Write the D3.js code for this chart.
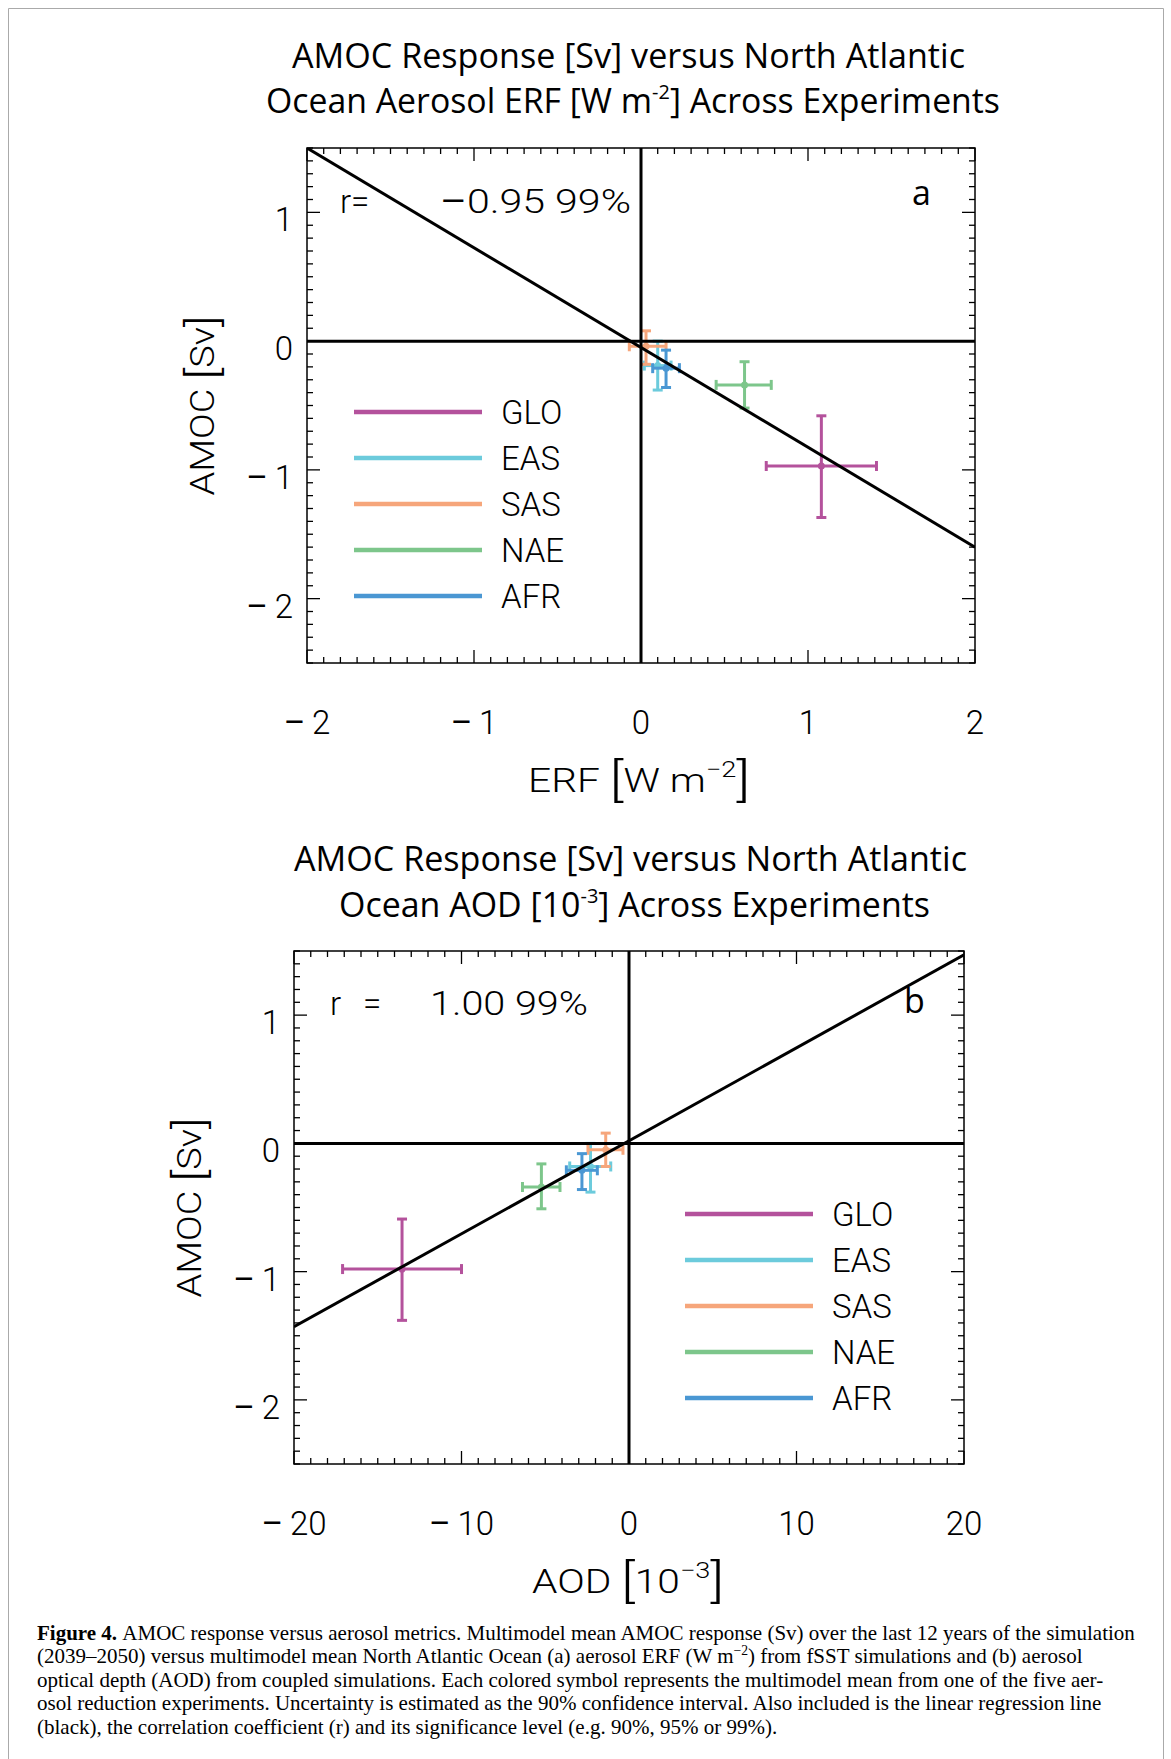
<!DOCTYPE html>
<meta charset="utf-8">
<style>
body { margin: 0; background: #fff; }
svg { display: block; }
.lbl { font-family: Roboto, "Liberation Sans", sans-serif; font-size: 33px; font-weight: 300; fill: #000; }
.ttl { font-family: "Open Sans", "Noto Sans", sans-serif; font-size: 34px; fill: #000; }
.cap { font-family: "Liberation Serif", serif; fill: #000; }
.minus { font-weight: 400; }
</style>
<body>
<script src="https://d3js.org/d3.v7.min.js"></script>
<script>

// experiments and colours
var experiments = ["GLO", "EAS", "SAS", "NAE", "AFR"];
var colors = ["#b4529c", "#6ccbdc", "#f6a67b", "#7dc68b", "#4a97d3"];

// panel a: ERF [W m-2] vs AMOC [Sv]
var erfMean = [1.08, 0.10, 0.03, 0.62, 0.15];
var erfLow  = [0.75, 0.02, -0.07, 0.45, 0.07];
var erfHigh = [1.41, 0.18, 0.15, 0.78, 0.23];
var amocMeanA = [-0.97, -0.19, -0.04, -0.34, -0.21];
var amocLowA  = [-1.37, -0.38, -0.18, -0.52, -0.36];
var amocHighA = [-0.58, 0.00, 0.08, -0.16, -0.07];
var regLineA = [[-2, 1.5], [2, -1.6]];

// panel b: AOD [10-3] vs AMOC [Sv]
var aodMean = [-13.55, -2.30, -1.39, -5.23, -2.81];
var aodLow  = [-17.1, -3.54, -2.45, -6.36, -3.74];
var aodHigh = [-10.0, -1.09, -0.36, -4.12, -1.89];
var amocMeanB = [-0.98, -0.18, -0.05, -0.34, -0.21];
var amocLowB  = [-1.38, -0.38, -0.18, -0.51, -0.36];
var amocHighB = [-0.59, 0.00, 0.08, -0.16, -0.08];
var regLineB = [[-20, -1.43], [20, 1.47]];

var xTicksA = [-2, -1, 0, 1, 2];
var xTicksB = [-20, -10, 0, 10, 20];
var yTicks = [-2, -1, 0, 1];
var yDomain = [-2.5, 1.5];

var captionLines = [
  "AMOC response versus aerosol metrics. Multimodel mean AMOC response (Sv) over the last 12 years of the simulation",
  "(2039\u20132050) versus multimodel mean North Atlantic Ocean (a) aerosol ERF (W m",
  "optical depth (AOD) from coupled simulations. Each colored symbol represents the multimodel mean from one of the five aer-",
  "osol reduction experiments. Uncertainty is estimated as the 90% confidence interval. Also included is the linear regression line",
  "(black), the correlation coefficient (r) and its significance level (e.g. 90%, 95% or 99%)."
];

var width = 1171,
    height = 1759;

var svg = d3.select("body").append("svg")
    .attr("width", width)
    .attr("height", height);

// page border (open at the bottom)
svg.append("path")
    .attr("d", "M8.5," + height + "V8.5H1163.5V" + height)
    .attr("fill", "none")
    .attr("stroke", "#aaa")
    .attr("stroke-width", 1);

// stretch or squeeze a text to a target width
function fitWidth(t, target) {
  t.attr("textLength", target).attr("lengthAdjust", "spacingAndGlyphs");
}

// number with a long, slightly heavier minus sign
function numText(t, v) {
  var s = String(v);
  if (s.charAt(0) === "-") {
    t.append("tspan").attr("class", "minus").text("\u2013\u2009");
    s = s.slice(1);
  }
  t.append("tspan").text(s);
}

function drawPanel(p) {
  var x = d3.scaleLinear().domain(p.xDomain).range([p.left, p.right]);
  var y = d3.scaleLinear().domain(yDomain).range([p.bottom, p.top]);
  var g = svg.append("g");

  var clipId = "clip" + p.name;
  g.append("clipPath").attr("id", clipId)
    .append("rect")
      .attr("x", p.left).attr("y", p.top)
      .attr("width", p.right - p.left).attr("height", p.bottom - p.top);

  // titles
  p.titles.forEach(function(tl) {
    var t = g.append("text").attr("class", "ttl").attr("x", tl.x0).attr("y", tl.y);
    t.append("tspan").text(tl.pre);
    if (tl.sup) {
      t.append("tspan").attr("font-size", 20).attr("dy", -14).text(tl.sup);
      t.append("tspan").attr("dy", 14).text(tl.post);
    }
    fitWidth(t, tl.w);
  });

  // ticks on all four sides
  var xStep = (p.xDomain[1] - p.xDomain[0]) / 40;
  var xMinor = d3.range(0, 41).map(function(i) { return p.xDomain[0] + i * xStep; });
  var yMinor = d3.range(0, 41).map(function(i) { return yDomain[0] + i * 0.1; });
  var tk = g.append("g").attr("stroke", "#000").attr("stroke-width", 1.3);
  xMinor.forEach(function(v, i) {
    var len = (i % 10 === 0) ? 13 : 6;
    tk.append("line").attr("x1", x(v)).attr("x2", x(v)).attr("y1", p.bottom).attr("y2", p.bottom - len);
    tk.append("line").attr("x1", x(v)).attr("x2", x(v)).attr("y1", p.top).attr("y2", p.top + len);
  });
  yMinor.forEach(function(v, i) {
    var len = ((i + 5) % 10 === 0) ? 13 : 6;
    tk.append("line").attr("y1", y(v)).attr("y2", y(v)).attr("x1", p.left).attr("x2", p.left + len);
    tk.append("line").attr("y1", y(v)).attr("y2", y(v)).attr("x1", p.right).attr("x2", p.right - len);
  });

  // error bars
  var cap = 5;
  experiments.forEach(function(e, i) {
    var c = colors[i];
    var eg = g.append("g").attr("stroke", c).attr("stroke-width", 3).attr("clip-path", "url(#" + clipId + ")");
    var cx = x(p.xm[i]), cy = y(p.ym[i]);
    eg.append("line").attr("x1", x(p.xl[i])).attr("x2", x(p.xh[i])).attr("y1", cy).attr("y2", cy);
    eg.append("line").attr("x1", x(p.xl[i])).attr("x2", x(p.xl[i])).attr("y1", cy - cap).attr("y2", cy + cap);
    eg.append("line").attr("x1", x(p.xh[i])).attr("x2", x(p.xh[i])).attr("y1", cy - cap).attr("y2", cy + cap);
    eg.append("line").attr("x1", cx).attr("x2", cx).attr("y1", y(p.yl[i])).attr("y2", y(p.yh[i]));
    eg.append("line").attr("x1", cx - cap).attr("x2", cx + cap).attr("y1", y(p.yl[i])).attr("y2", y(p.yl[i]));
    eg.append("line").attr("x1", cx - cap).attr("x2", cx + cap).attr("y1", y(p.yh[i])).attr("y2", y(p.yh[i]));
    g.append("circle").attr("cx", cx).attr("cy", cy).attr("r", 3.5).attr("fill", c);
  });

  // zero lines
  g.append("line").attr("x1", x(0)).attr("x2", x(0)).attr("y1", p.top).attr("y2", p.bottom)
      .attr("stroke", "#000").attr("stroke-width", 3);
  g.append("line").attr("x1", p.left).attr("x2", p.right).attr("y1", y(0)).attr("y2", y(0))
      .attr("stroke", "#000").attr("stroke-width", 3);

  // regression line
  g.append("path")
      .datum(p.reg)
      .attr("clip-path", "url(#" + clipId + ")")
      .attr("d", d3.line().x(function(d) { return x(d[0]); }).y(function(d) { return y(d[1]); }))
      .attr("fill", "none")
      .attr("stroke", "#000")
      .attr("stroke-width", 3);

  // frame
  g.append("rect")
      .attr("x", p.left).attr("y", p.top)
      .attr("width", p.right - p.left).attr("height", p.bottom - p.top)
      .attr("fill", "none").attr("stroke", "#000").attr("stroke-width", 1.5);

  // tick labels
  p.xTicks.forEach(function(v) {
    var t = g.append("text").attr("class", "lbl")
        .attr("x", x(v)).attr("y", p.bottom + 71)
        .attr("text-anchor", "middle");
    numText(t, v);
  });
  yTicks.forEach(function(v) {
    var t = g.append("text").attr("class", "lbl")
        .attr("x", p.left - 14).attr("y", y(v) + 19)
        .attr("text-anchor", "end");
    numText(t, v);
  });

  // axis titles
  var xt = g.append("text").attr("class", "lbl").attr("font-size", 34)
      .attr("x", p.xLabelX).attr("y", p.bottom + 129);
  xt.append("tspan").text(p.xLabel[0] + "  ");
  xt.append("tspan").attr("font-size", 46).attr("dy", 4).text("[");
  xt.append("tspan").attr("dy", -4).text(p.xLabel[1]);
  xt.append("tspan").attr("font-size", 22).attr("dy", -15).text(p.xLabel[2]);
  xt.append("tspan").attr("font-size", 46).attr("dy", 19).text("]");
  fitWidth(xt, p.xLabelW);

  var yc = (p.top + p.bottom) / 2;
  var ytg = g.append("g").attr("transform", "translate(" + (p.left - 93) + "," + (yc + 90) + ") rotate(-90)");
  var yt = ytg.append("text").attr("class", "lbl").attr("font-size", 34).attr("y", 0);
  yt.append("tspan").text("AMOC  ");
  yt.append("tspan").attr("font-size", 42).attr("dy", 3).text("[");
  yt.append("tspan").attr("dy", -3).text("Sv");
  yt.append("tspan").attr("font-size", 42).attr("dy", 3).text("]");
  fitWidth(yt, 180);

  // r annotation
  p.rText.forEach(function(r) {
    var t = g.append("text").attr("class", "lbl").attr("x", r.x).attr("y", p.rY);
    if (r.minus) t.append("tspan").attr("class", "minus").text("\u2013");
    t.append("tspan").text(r.s);
    if (r.w) fitWidth(t, r.w);
  });

  // panel letter
  g.append("text").attr("class", "ttl").attr("font-size", p.letterSize)
      .attr("x", p.letterX).attr("y", p.letterY).text(p.name);

  // legend
  experiments.forEach(function(e, i) {
    var ly = p.legY + i * 46;
    g.append("line").attr("x1", p.legX).attr("x2", p.legX + 128).attr("y1", ly).attr("y2", ly)
        .attr("stroke", colors[i]).attr("stroke-width", 4.5);
    g.append("text").attr("class", "lbl").attr("x", p.legX + 147).attr("y", ly + 12).text(e);
  });
}

drawPanel({
  name: "a",
  left: 307, right: 975, top: 148, bottom: 663,
  xDomain: [-2, 2], xTicks: xTicksA,
  xm: erfMean, xl: erfLow, xh: erfHigh,
  ym: amocMeanA, yl: amocLowA, yh: amocHighA,
  reg: regLineA,
  titles: [
    {y: 68, x0: 292, w: 673, pre: "AMOC Response [Sv] versus North Atlantic"},
    {y: 113, x0: 266, w: 734, pre: "Ocean Aerosol ERF [W m", sup: "-2", post: "] Across Experiments"}
  ],
  xLabel: ["ERF", "W  m", "\u22122"], xLabelX: 528, xLabelW: 222,
  rY: 213,
  rText: [{x: 340, s: "r="}, {x: 440, s: "0.95  99%", w: 191, minus: true}],
  letterX: 912, letterY: 205, letterSize: 54,
  legX: 354, legY: 412
});

drawPanel({
  name: "b",
  left: 294, right: 964, top: 951, bottom: 1464,
  xDomain: [-20, 20], xTicks: xTicksB,
  xm: aodMean, xl: aodLow, xh: aodHigh,
  ym: amocMeanB, yl: amocLowB, yh: amocHighB,
  reg: regLineB,
  titles: [
    {y: 871, x0: 294, w: 673, pre: "AMOC Response [Sv] versus North Atlantic"},
    {y: 917, x0: 339, w: 591, pre: "Ocean AOD [10", sup: "-3", post: "] Across Experiments"}
  ],
  xLabel: ["AOD", "10", "\u22123"], xLabelX: 532, xLabelW: 192,
  rY: 1015,
  rText: [{x: 330, s: "r"}, {x: 363, s: "="}, {x: 430, s: "1.00  99%", w: 158}],
  letterX: 904, letterY: 1013, letterSize: 56,
  legX: 685, legY: 1214
});

// caption
var capY = [1640, 1663, 1687, 1710, 1734];
var capG = svg.append("g").attr("class", "cap");
var capTexts = captionLines.map(function(s, i) {
  return capG.append("text").attr("x", 37).attr("y", capY[i]).attr("font-size", 20);
});
capTexts[0].append("tspan").attr("font-weight", "bold").text("Figure 4. ");
capTexts[0].append("tspan").text(captionLines[0]);
capTexts[1].append("tspan").text(captionLines[1]);
capTexts[1].append("tspan").attr("font-size", 13).attr("dy", -8).text("\u22122");
capTexts[1].append("tspan").attr("dy", 8).text(") from fSST simulations and (b) aerosol");
for (var i = 2; i < captionLines.length; i++) capTexts[i].text(captionLines[i]);
var w0 = capTexts[0].node().getComputedTextLength();
var fs = 20 * 1098 / w0;
capTexts.forEach(function(t) { t.attr("font-size", fs); });
capTexts[1].select("tspan:nth-child(2)").attr("font-size", fs * 0.65);

</script>
</body>
